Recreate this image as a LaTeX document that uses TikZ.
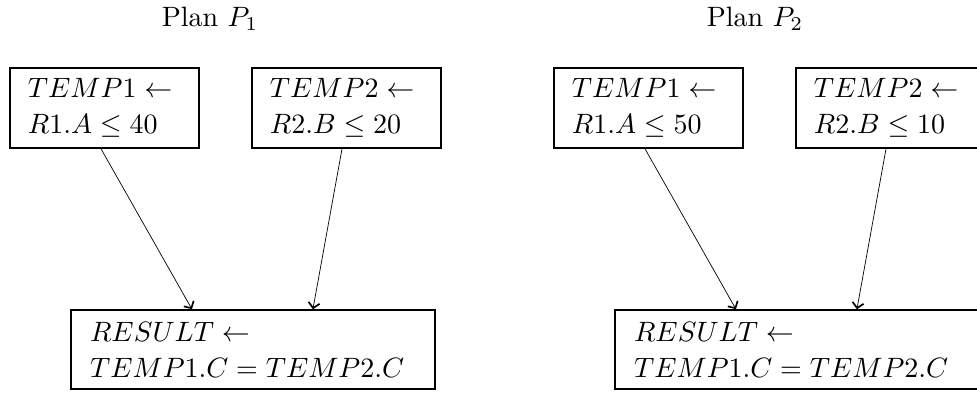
\documentclass[tikz,border=0pt]{standalone}
\usetikzlibrary{arrows.meta}
\begin{document}
% one unit = one pixel of the 977 x 395 layout, text set at 10pt
\begin{tikzpicture}[x=0.35714pt,y=-0.35714pt,
  every node/.style={font=\fontsize{10}{12.86}\selectfont},
  opbox/.style={draw, line width=0.57pt, inner ysep=0pt, align=left},
  smallop/.style={opbox, inner xsep=6.4pt, text width=54.7pt,
    minimum width=67.5pt, minimum height=28.57pt},
  joinop/.style={opbox, inner xsep=6.8pt, text width=116.4pt,
    minimum width=130pt, minimum height=28.2pt},
  flow/.style={line width=0.25pt,
    -{Straight Barb[length=1.9pt,width=4pt,line width=0.6pt]}},
  title/.style={anchor=base}]
\useasboundingbox (0,0) rectangle (977,395);

% Plan P1
\node[title] (t1) at (210,26) {Plan $P_1$};
\node[smallop] (a1) at (104.5,108) {$TEMP1 \leftarrow$\\$R1.A \leq 40$};
\node[smallop] (b1) at (346.5,108) {$TEMP2 \leftarrow$\\$R2.B \leq 20$};
\node[joinop]  (r1) at (253,349.5) {$RESULT \leftarrow$\\$TEMP1.C = TEMP2.C$};
\draw[flow] ([xshift=-1.25pt]a1.south) -- ([xshift=-21.8pt]r1.north);
\draw[flow] ([xshift=-1.6pt]b1.south) -- ([xshift=21.4pt]r1.north);

% Plan P2
\node[title] (t2) at (755,26) {Plan $P_2$};
\node[smallop] (a2) at (648.5,108) {$TEMP1 \leftarrow$\\$R1.A \leq 50$};
\node[smallop] (b2) at (890.5,108) {$TEMP2 \leftarrow$\\$R2.B \leq 10$};
\node[joinop]  (r2) at (797,349.5) {$RESULT \leftarrow$\\$TEMP1.C = TEMP2.C$};
\draw[flow] ([xshift=-1.25pt]a2.south) -- ([xshift=-21.8pt]r2.north);
\draw[flow] ([xshift=-1.6pt]b2.south) -- ([xshift=21.4pt]r2.north);
\end{tikzpicture}
\end{document}
